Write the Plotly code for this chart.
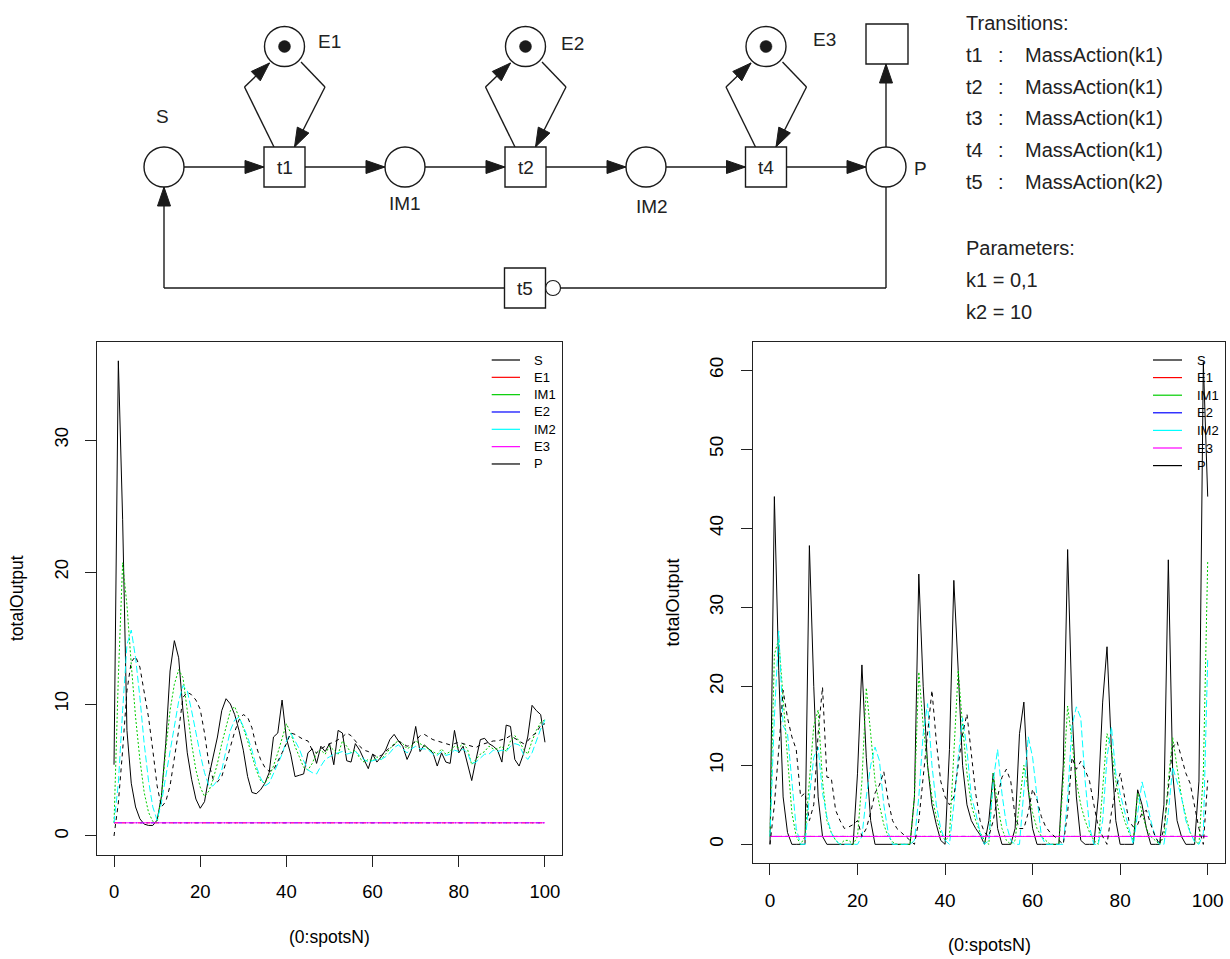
import math
import plotly.graph_objects as go

W, H = 1230, 959
FONT = "Liberation Sans, Arial, sans-serif"

# ---------------- data ----------------
steps = list(range(101))
series_names = ["S", "E1", "IM1", "E2", "IM2", "E3", "P"]
series_colors = ["#000000", "#FF0000", "#00CD00", "#0000FF", "#00FFFF", "#FF00FF", "#000000"]
series_dash = ["solid", "4px,4px", "2px,2px", "1px,3px,4px,3px", "7px,3px", "solid", "4px,4px"]
x_ticks = [0, 20, 40, 60, 80, 100]
left_y_ticks = [0, 10, 20, 30]
right_y_ticks = [0, 10, 20, 30, 40, 50, 60]

left_S = [5.4, 36, 24, 8, 4, 2.2, 1.3, 0.9, 0.8, 0.8,
          1.2, 3, 7, 12.5, 14.8, 13.5, 9.5, 6.3, 4.3, 2.8,
          2.1, 2.6, 4.5, 6, 7.5, 9.5, 10.4, 10, 9.2, 8,
          6.5, 4.5, 3.3, 3.2, 3.5, 4, 4.8, 7.5, 7.8, 10.3,
          7.4, 6.2, 4.5, 4.6, 4.7, 6.3, 6.6, 5.5, 6.8, 6.4,
          7, 5.4, 8, 7.8, 5.7, 5.6, 7, 6.5, 5.8, 5.1,
          6.2, 5.6, 6, 6.5, 7.3, 7.7, 7.2, 6.8, 5.8, 6.5,
          8.3, 6.4, 6.9, 6.6, 6.3, 5.3, 6.3, 5.6, 5.5, 8,
          6.3, 6.8, 5.5, 4.2, 5.8, 7.3, 7.4, 7, 6.8, 6.5,
          5.6, 8.4, 8.3, 5.8, 5.3, 6.2, 7.5, 9.9, 9.5, 9.2,
          7.1]
left_E1 = [1] * 101
left_IM1 = [1, 12, 20.7, 17.5, 13, 9, 5.8, 3.3, 1.8, 1.1,
            1, 3, 6.5, 9.5, 11.5, 12.6, 12, 9.3, 7, 5,
            3.7, 3, 3.4, 4.3, 5.5, 7, 8.3, 9.5, 9.8, 9,
            8.2, 7.2, 6, 5, 4.2, 4, 4.5, 5.3, 6.3, 7.5,
            8.5, 7.8, 6.8, 6, 5.2, 5, 5.5, 6.3, 6.5, 6.2,
            6.8, 6.5, 6.2, 7.2, 6.8, 6.3, 6.5, 5.9, 5.6, 5.8,
            5.7, 6, 5.8, 6.2, 6.6, 7, 7.2, 7, 6.6, 6.8,
            7.2, 7, 6.8, 6.6, 6.4, 6.2, 6.6, 6.2, 6.4, 6.8,
            6.7, 7, 6.6, 5.4, 5.8, 6.2, 6.4, 6.8, 6.6, 6.6,
            6.8, 6.4, 7.2, 7.6, 7.2, 6.6, 6.2, 7.2, 8, 8.6,
            8.8]
left_E2 = [1] * 101
left_IM2 = [1, 4, 9.5, 14.5, 15.6, 13.5, 10.5, 7, 4.2, 2.2,
            1.2, 2.5, 4.5, 6.5, 8.5, 10.2, 11.4, 11, 9.5, 7.8,
            6.2, 4.8, 3.8, 3.8, 4.2, 5, 6.5, 8, 8.8, 9,
            8.3, 7.5, 6.5, 5.3, 4.4, 3.8, 4, 4.7, 5.5, 6.2,
            7.2, 7.8, 7.2, 6.6, 5.7, 5, 4.8, 4.7, 5.3, 5.8,
            6, 6.2, 6.3, 6.4, 6.2, 6.3, 6.4, 6.1, 5.8, 5.6,
            5.7, 5.8, 5.8, 6, 6.3, 6.7, 6.9, 6.6, 6.3, 6.6,
            6.8, 6.6, 6.6, 6.5, 6.2, 6.1, 6.4, 6.1, 6.2, 6.5,
            6.4, 6.6, 6.3, 5.5, 5.6, 5.9, 6.2, 6.2, 6.5, 6.4,
            6.5, 6.4, 6.8, 7, 6.9, 6.2, 5.8, 6.3, 7.2, 8.1,
            8.8]
left_E3 = [1] * 101
left_P = [0, 2.5, 6.5, 11, 13.2, 13.6, 12.8, 11, 9, 6.5,
          3.8, 2.2, 2.6, 3.8, 5.8, 8, 10.5, 10.9, 10.7, 10.3,
          9.6, 7.8, 5.5, 4.3, 4.1, 4.5, 5.6, 6.8, 7.9, 8.8,
          9.2, 9, 8.2, 6.8, 5.8, 5.2, 4.9, 5, 5.6, 6.3,
          7, 7.8, 7.7, 7.5, 7.3, 7.2, 6.5, 6.3, 6.6, 6.8,
          7, 7.1, 7.3, 7.5, 7.8, 7.6, 7.2, 6.8, 6.5, 6.4,
          6.2, 6, 6.1, 6.4, 6.7, 6.9, 7.2, 7, 6.8, 6.9,
          7.2, 7.6, 7.7, 7.5, 7.3, 7.2, 7.1, 7, 6.9, 7,
          7.1, 7, 6.9, 6.8, 6.7, 6.9, 7, 7.1, 7.2, 7.2,
          7.3, 7.4, 7.6, 7.4, 7.2, 7, 7.2, 7.6, 7.8, 8.4,
          8.5]

right_S = [0, 44, 22, 6, 1.5, 0, 0, 0, 0, 37.8,
           20, 6, 1, 0, 0, 0, 0, 0, 0, 0,
           9, 22.7, 11, 3, 0, 0, 0, 0, 0, 0,
           0, 0, 0, 6, 34.2, 20, 10, 5, 2.5, 0.5,
           0, 12, 33.4, 22, 10, 5, 3, 2, 1.2, 0,
           3, 9, 2, 0, 0, 0, 2, 14, 18, 7,
           2, 0, 0, 0, 0, 0, 0, 10, 37.3, 17,
           6, 0.5, 0, 0, 0, 6, 18, 25, 12, 3,
           0, 0, 0, 0, 6.9, 5, 2, 0, 0, 0,
           5, 36, 9, 3, 1, 0, 0, 0, 8, 61,
           44]
right_E1 = [1] * 101
right_IM1 = [1, 24, 26, 18, 11, 4, 1, 0, 1, 8,
             15, 17, 8, 3, 1.5, 0.5, 0, 0.5, 0.5, 0,
             1, 8, 19.8, 14, 8, 5, 2.5, 1, 0.3, 0,
             0, 0, 0, 6, 21.8, 15, 10, 6, 3.5, 1.5,
             0.5, 1, 12, 22, 15, 9, 5, 3, 1.5, 0.5,
             0, 9, 5, 2, 0.5, 0, 0.5, 5, 10, 7,
             4, 2, 1, 0.5, 0, 0, 0, 8, 17.5, 13,
             8, 5, 3, 1.5, 0.5, 0, 7, 14, 12, 8,
             5, 3, 1.5, 0.5, 6.5, 4, 2, 1, 0.5, 0,
             1, 8, 13.5, 10, 6, 3.5, 1.5, 0.5, 0, 9,
             35.8]
right_E2 = [1] * 101
right_IM2 = [1, 16, 27, 15, 14, 8, 2, 0, 0, 6,
             11, 12.3, 6.5, 3.5, 1.5, 0.5, 0, 0, 0, 0,
             0, 1, 6, 10, 12.3, 10.6, 5, 1.5, 0, 0,
             0, 0, 0, 0.5, 6, 14, 17.8, 10, 5, 2,
             0.5, 0, 5, 11, 16, 12, 6, 4, 1.5, 0,
             0.5, 8, 12, 6.4, 2.5, 0.5, 0, 0, 7, 13.6,
             11, 6, 1, 0, 0, 0, 0, 0, 6, 15,
             17.4, 16, 8, 2.2, 0, 0, 3, 11, 14.9, 9,
             6.4, 4, 2, 0, 4, 7.9, 5.6, 3, 1, 0,
             0, 4, 9.8, 8, 6, 3, 1.5, 0.3, 0, 1.4,
             23.5]
right_E3 = [1] * 101
right_P = [0, 5, 12, 19.5, 16, 13.6, 12, 6, 6.5, 3,
           5, 14, 19.9, 8.5, 8.4, 4.3, 3, 2, 2.2, 2.5,
           3, 1, 2, 4, 6.5, 7.5, 9.2, 5.5, 3, 2,
           1.5, 1, 0.5, 0, 3, 8.5, 14, 19.5, 13, 8,
           6, 5, 6, 10, 14, 16.5, 11, 6.4, 3, 1.5,
           1, 3, 6, 8.5, 9.5, 8, 3.5, 2, 2, 4,
           7, 5.6, 3.5, 2.2, 1.5, 1, 0.5, 0, 4, 11,
           9.5, 10.5, 9.4, 8, 5, 2.2, 1, 0, 4, 7,
           9, 6, 3, 2.2, 2.5, 4, 4.3, 2.5, 1, 0,
           2, 7, 12.3, 13, 11, 9, 7.7, 5, 2, 0,
           8.1]

left_series = [left_S, left_E1, left_IM1, left_E2, left_IM2, left_E3, left_P]
right_series = [right_S, right_E1, right_IM1, right_E2, right_IM2, right_E3, right_P]

transition_rows = [("t1", "MassAction(k1)"), ("t2", "MassAction(k1)"), ("t3", "MassAction(k1)"),
                   ("t4", "MassAction(k1)"), ("t5", "MassAction(k2)")]
parameter_rows = ["k1 = 0,1", "k2 = 10"]

# ---------------- figure ----------------
fig = go.Figure()
for xa, ya, data in (("x", "y", left_series), ("x2", "y2", right_series)):
    for name, color, dash, ys in zip(series_names, series_colors, series_dash, data):
        fig.add_trace(go.Scatter(x=steps, y=ys, mode="lines", name=name,
                                 line=dict(color=color, width=1, dash=dash),
                                 xaxis=xa, yaxis=ya, showlegend=False, hoverinfo="skip"))


def PX(x):
    return x / W


def PY(y):
    return 1 - y / H


shapes = []
annotations = []
INK = "#1a1a1a"


def seg(x0, y0, x1, y1, w=1.4):
    shapes.append(dict(type="line", xref="paper", yref="paper", x0=PX(x0), y0=PY(y0),
                       x1=PX(x1), y1=PY(y1), line=dict(color=INK, width=w)))


def circ(cx, cy, r, fill="white", w=1.4):
    shapes.append(dict(type="circle", xref="paper", yref="paper", x0=PX(cx - r), x1=PX(cx + r),
                       y0=PY(cy + r), y1=PY(cy - r), fillcolor=fill, line=dict(color=INK, width=w)))


def box(cx, cy, bw, bh):
    shapes.append(dict(type="rect", xref="paper", yref="paper", x0=PX(cx - bw / 2), x1=PX(cx + bw / 2),
                       y0=PY(cy + bh / 2), y1=PY(cy - bh / 2), fillcolor="white",
                       line=dict(color=INK, width=1.4)))


def head(x0, y0, x1, y1, L=19, hw=6.5):
    dx, dy = x1 - x0, y1 - y0
    d = math.hypot(dx, dy)
    ux, uy = dx / d, dy / d
    bx, by = x1 - ux * L, y1 - uy * L
    nx, ny = -uy, ux
    pts = [(x1, y1), (bx + nx * hw, by + ny * hw), (bx - nx * hw, by - ny * hw)]
    path = "M " + " L ".join(f"{PX(a):.5f},{PY(b):.5f}" for a, b in pts) + " Z"
    shapes.append(dict(type="path", xref="paper", yref="paper", path=path,
                       fillcolor=INK, line=dict(color=INK, width=1)))


def arrow(pts):
    for (a, b), (c, d) in zip(pts[:-1], pts[1:]):
        seg(a, b, c, d)
    head(*pts[-2], *pts[-1])


def text(x, y, s, size=19, xanchor="center", yanchor="middle", angle=0, color="#222"):
    annotations.append(dict(x=PX(x), y=PY(y), xref="paper", yref="paper", text=s, showarrow=False,
                            xanchor=xanchor, yanchor=yanchor, textangle=angle,
                            font=dict(family=FONT, size=size, color=color)))


# ---- Petri net diagram ----
R = 20
row_y = 167
S_x, IM1_x, IM2_x, P_x = 164, 405, 646, 886
t1_x, t2_x, t4_x = 284.5, 525.5, 766
E_y = 46.5
t5_x, t5_y = 525, 288
BW, BH = 41, 40

arrow([(S_x + R, row_y), (t1_x - BW / 2, row_y)])
arrow([(t1_x + BW / 2, row_y), (IM1_x - R, row_y)])
arrow([(IM1_x + R, row_y), (t2_x - BW / 2, row_y)])
arrow([(t2_x + BW / 2, row_y), (IM2_x - R, row_y)])
arrow([(IM2_x + R, row_y), (t4_x - BW / 2, row_y)])
arrow([(t4_x + BW / 2, row_y), (P_x - R, row_y)])
arrow([(P_x, row_y - R), (P_x, 64)])
for tx in (t1_x, t2_x, t4_x):
    arrow([(tx - 10.5, row_y - 20), (tx - 40, row_y - 80), (tx - 15, row_y - 104)])
    arrow([(tx + 16.5, row_y - 105), (tx + 40.5, row_y - 80), (tx + 10, row_y - 20)])
seg(P_x, row_y + R, P_x, t5_y)
seg(P_x, t5_y, t5_x + BW / 2 + 15, t5_y)
seg(t5_x - BW / 2, t5_y, S_x, t5_y)
arrow([(S_x, t5_y), (S_x, row_y + R)])
circ(t5_x + BW / 2 + 7.5, t5_y, 7.5, w=1.2)

for cx in (S_x, IM1_x, IM2_x, P_x):
    circ(cx, row_y, R)
for tx in (t1_x, t2_x, t4_x):
    circ(tx, E_y, R)
    circ(tx, E_y, 6, fill=INK, w=0.5)
for (tx, ty) in ((t1_x, row_y), (t2_x, row_y), (t4_x, row_y), (t5_x, t5_y)):
    box(tx, ty, BW, BH)
box(887, 44, 42, 40)

text(t1_x, row_y, "t1")
text(t2_x, row_y, "t2")
text(t4_x, row_y, "t4")
text(t5_x, t5_y, "t5")
text(162, 117, "S")
text(329, 42, "E1")
text(572, 43, "E2")
text(824, 40, "E3")
text(405, 204, "IM1")
text(652, 207, "IM2")
text(920, 168, "P")

text(964, 23, "Transitions:", size=20, xanchor="left")
for i, (tn, law) in enumerate(transition_rows):
    yy = 55 + i * 31.7
    text(964, yy, tn, size=20, xanchor="left")
    text(1001, yy, ":", size=20)
    text(1023, yy, law, size=20, xanchor="left")
text(964, 248, "Parameters:", size=20, xanchor="left")
for i, s in enumerate(parameter_rows):
    text(964, 280 + i * 32, s, size=20, xanchor="left")

# ---- legends (R style, no box) ----
for (lx0, lx1, tx, step) in ((491.7, 520, 531.7, 17.33), (1153, 1182, 1195, 17.6)):
    for i, (name, color) in enumerate(zip(series_names, series_colors)):
        yy = 360 + i * step
        shapes.append(dict(type="line", xref="paper", yref="paper", x0=PX(lx0), x1=PX(lx1),
                           y0=PY(yy), y1=PY(yy), line=dict(color=color, width=1.2)))
        text(tx, yy, name, size=13, xanchor="left", color="#000")

# ---- axis titles ----
text(17, 598, "totalOutput", size=17.5, angle=-90, color="#000")
text(329.5, 937, "(0:spotsN)", size=17.5, color="#000")
text(672, 602.5, "totalOutput", size=18, angle=-90, color="#000")
text(989, 945, "(0:spotsN)", size=18, color="#000")


def xaxis_cfg(domain, size):
    return dict(domain=domain, range=[-3.95, 103.95], tickvals=x_ticks, ticks="outside", ticklen=11,
                tickcolor="#222", showline=True, linecolor="#222", linewidth=1, mirror=True,
                showgrid=False, zeroline=False, tickfont=dict(family=FONT, size=size, color="#000"),
                ticklabelstandoff=9, fixedrange=True)


def yaxis_cfg(domain, rng, ticks, size):
    return dict(domain=domain, range=rng, tickvals=ticks, ticks="outside", ticklen=11,
                tickcolor="#222", showline=True, linecolor="#222", linewidth=1, mirror=True,
                showgrid=False, zeroline=False, tickangle=-90,
                tickfont=dict(family=FONT, size=size, color="#000"), ticklabelstandoff=10,
                fixedrange=True)


fig.update_layout(
    width=W, height=H, margin=dict(l=0, r=0, t=0, b=0),
    paper_bgcolor="white", plot_bgcolor="white", showlegend=False, hovermode=False,
    xaxis=xaxis_cfg([97 / W, 562 / W], 18.5),
    yaxis=yaxis_cfg([1 - 855 / H, 1 - 341.7 / H], [-1.44, 37.45], left_y_ticks, 18.5),
    xaxis2=xaxis_cfg([752.7 / W, 1225 / W], 19),
    yaxis2=yaxis_cfg([1 - 863.3 / H, 1 - 341.7 / H], [-2.4, 63.6], right_y_ticks, 19),
    shapes=shapes, annotations=annotations,
)
fig.update_layout(xaxis2=dict(anchor="y2"), yaxis2=dict(anchor="x2"))

for arr in left_series + right_series:
    assert len(arr) == 101, len(arr)

fig.write_html("out.html", config={"displayModeBar": False, "staticPlot": True})
with open("out.html", "r", encoding="utf-8") as fh:
    page = fh.read()
page = page.replace("<body>", '<body style="margin:0;padding:0;overflow:hidden">', 1)
with open("out.html", "w", encoding="utf-8") as fh:
    fh.write(page)
